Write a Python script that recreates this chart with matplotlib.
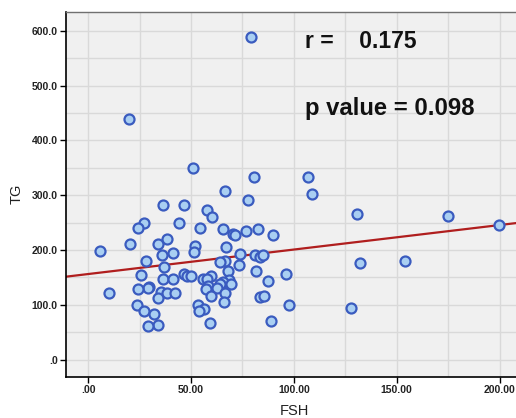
import matplotlib
matplotlib.use("Agg")
import matplotlib.pyplot as plt
from matplotlib import font_manager as fm
import numpy as np
import os
from matplotlib.ticker import MultipleLocator, FixedLocator, FixedFormatter

fsh = [79.0, 19.8, 51.1, 80.6, 107.0, 108.7, 66.6, 77.8, 36.5, 46.5,
       57.6, 60.3, 130.8, 175.1, 27.1, 44.1, 24.0, 54.5, 65.7, 82.5,
       76.6, 70.5, 71.4, 89.6, 199.9, 38.3, 20.2, 33.9, 51.7, 66.8,
       5.8, 51.2, 41.3, 36.1, 73.8, 81.3, 83.5, 85.1, 28.1, 66.6,
       64.1, 154.0, 132.2, 36.9, 73.4, 68.0, 81.6, 96.4, 25.5, 46.4,
       48.2, 49.8, 59.9, 55.8, 57.6, 36.3, 41.1, 68.3, 87.4, 65.5,
       64.1, 69.4, 58.4, 57.2, 62.4, 29.7, 29.0, 24.3, 35.2, 38.1,
       42.1, 9.9, 66.4, 59.9, 83.3, 85.5, 33.9, 66.2, 23.9, 53.3,
       97.5, 127.9, 56.4, 53.7, 27.1, 32.0, 88.7, 59.0, 34.0, 29.1]
tg = [589, 439, 349, 334, 334, 302, 308, 291, 282, 282,
      274, 260, 266, 262, 250, 250, 240, 240, 238, 238,
      234, 229, 227, 228, 246, 220, 212, 211, 208, 205,
      198, 196, 194, 191, 193, 191, 188, 191, 181, 180,
      178, 180, 176, 170, 172, 161, 161, 156, 155, 156,
      152, 152, 153, 147, 148, 147, 147, 145, 144, 141,
      139, 139, 134, 129, 130, 133, 130, 129, 123, 121,
      121, 121, 121, 117, 115, 116, 113, 106, 100, 100,
      99, 95, 92, 89, 88, 84, 71, 67, 63, 62]

fit_intercept = 156.3
fit_slope = 0.447

r_text = "r =    0.175"
p_text = "p value = 0.098"

x_ticks = [0, 50, 100, 150, 200]
x_tick_labels = [".00", "50.00", "100.00", "150.00", "200.00"]
y_ticks = [0, 100, 200, 300, 400, 500, 600]
y_tick_labels = [".0", "100.0", "200.0", "300.0", "400.0", "500.0", "600.0"]


def find_font(fname_target):
    for p in fm.findSystemFonts():
        if os.path.basename(p).lower() == fname_target.lower():
            return p
    return None


reg_path = find_font("LiberationSans-Regular.ttf")
bold_path = find_font("LiberationSans-Bold.ttf")


def fp(bold, size):
    path = bold_path if bold else reg_path
    if path:
        return fm.FontProperties(fname=path, size=size)
    return fm.FontProperties(family='DejaVu Sans', weight='bold' if bold else 'normal', size=size)


W, H = 516, 418
fig = plt.figure(figsize=(W / 100, H / 100), dpi=100)
fig.patch.set_facecolor('white')
ax = fig.add_axes([66 / W, 1 - 377 / H, (522 - 66) / W, (377 - 12) / H])
ax.set_facecolor('#f0f0f0')

xlim = (-10.8, 210.9)
ylim = (-31.6, 634.5)
ax.set_xlim(*xlim)
ax.set_ylim(*ylim)

ax.xaxis.set_major_locator(FixedLocator(x_ticks))
ax.xaxis.set_major_formatter(FixedFormatter(x_tick_labels))
ax.yaxis.set_major_locator(FixedLocator(y_ticks))
ax.yaxis.set_major_formatter(FixedFormatter(y_tick_labels))
ax.xaxis.set_minor_locator(MultipleLocator(25))
ax.yaxis.set_minor_locator(MultipleLocator(50))
ax.grid(True, which='both', color='#d9d9d9', linewidth=1.0)
ax.set_axisbelow(True)

ax.tick_params(axis='both', which='major', direction='out', length=4, width=1,
               color='black', pad=2)
ax.tick_params(axis='both', which='minor', length=0)
tick_fp = fp(True, 7.5)
for lab in ax.get_xticklabels() + ax.get_yticklabels():
    lab.set_fontproperties(tick_fp)
    lab.set_color('#222222')

for side in ['left', 'bottom']:
    ax.spines[side].set_color('black')
    ax.spines[side].set_linewidth(1.2)
ax.spines['top'].set_color('#707070')
ax.spines['top'].set_linewidth(1.0)
ax.spines['right'].set_visible(False)

xs = np.array(xlim)
ax.plot(xs, fit_intercept + fit_slope * xs, color='#b01e1e', linewidth=1.6, zorder=2)

ax.scatter(fsh, tg, s=52, facecolor='#a9cff2', edgecolor='#3a5bbf',
           linewidths=1.6, zorder=3)

fig.text(305 / W, 1 - 41 / H, r_text, fontproperties=fp(True, 16.5),
         va='center', ha='left', color='#111111')
fig.text(305 / W, 1 - 108 / H, p_text, fontproperties=fp(True, 17.2),
         va='center', ha='left', color='#111111')

lab_fp = fp(False, 10.5)
fig.text(294 / W, 1 - 411 / H, "FSH", fontproperties=lab_fp, ha='center', va='center',
         color='#222222')
fig.text(17 / W, 1 - 194 / H, "TG", fontproperties=lab_fp, ha='center', va='center',
         rotation=90, color='#222222')

fig.savefig("out.png", dpi=100)
